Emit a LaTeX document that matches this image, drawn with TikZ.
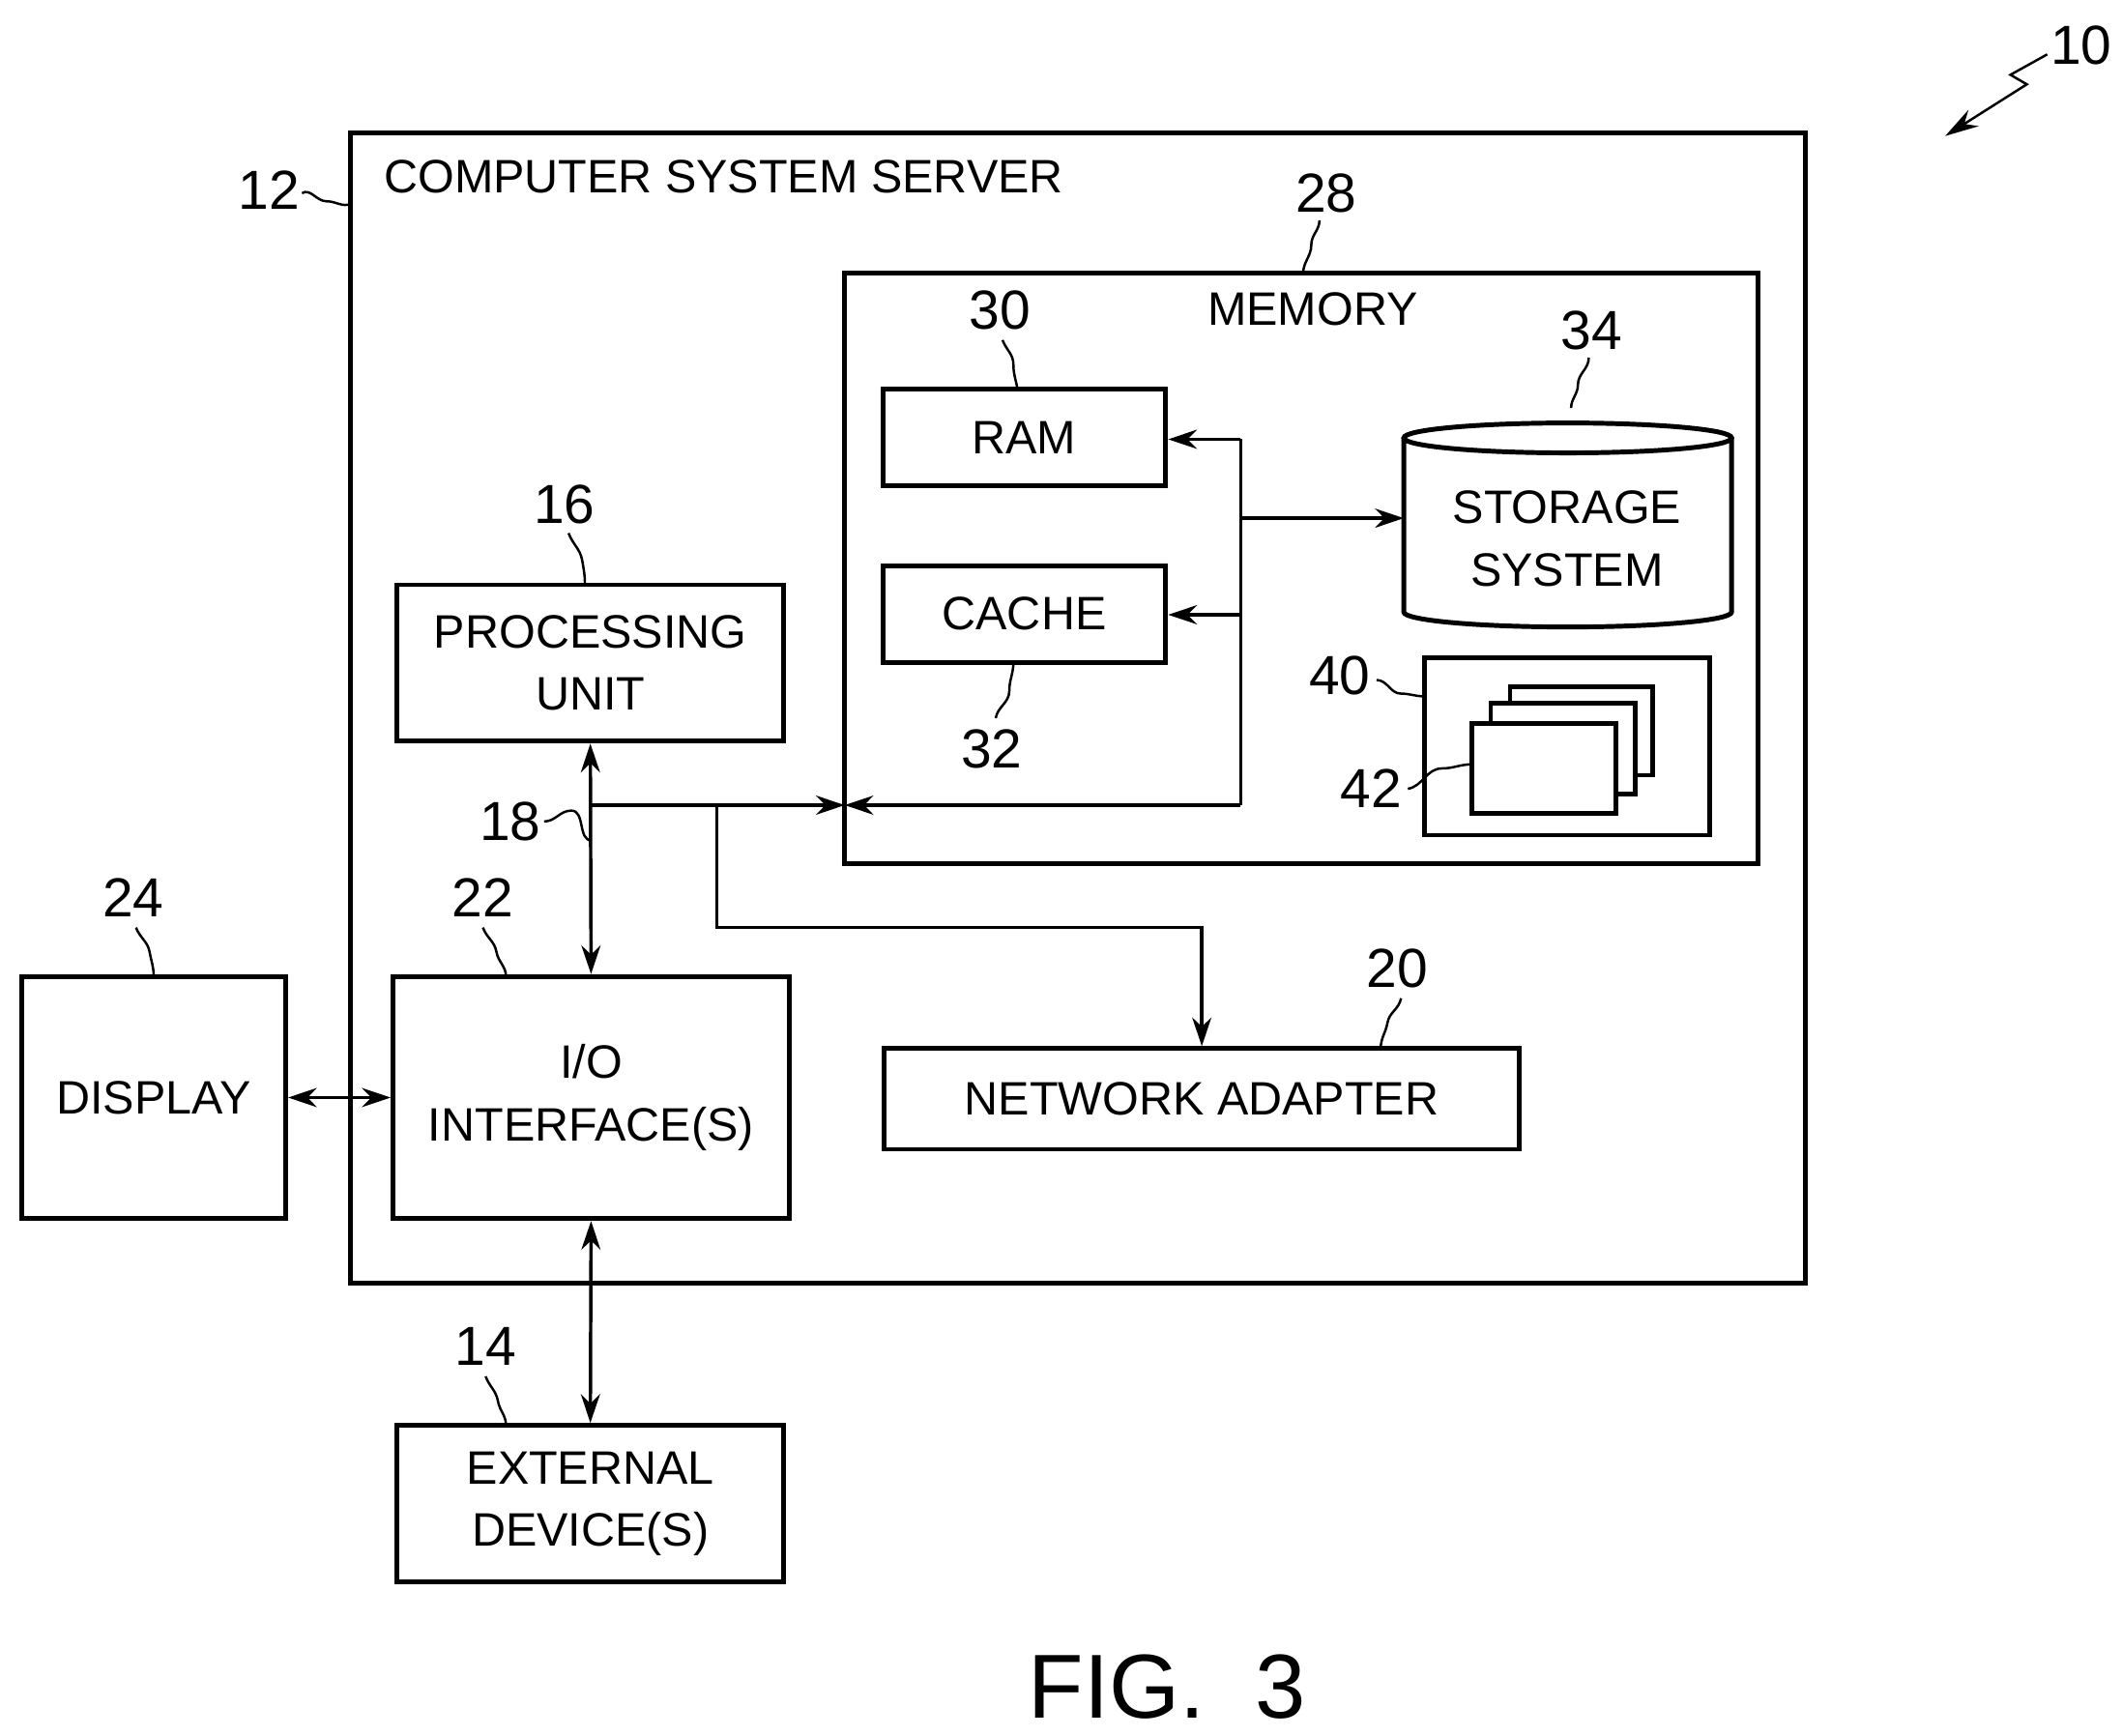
\documentclass[tikz,border=0pt]{standalone}
\usepackage{fontspec}
\setmainfont{Liberation Sans}
\usetikzlibrary{positioning,arrows.meta}
\tikzset{
  box/.style={draw,line width=1pt,minimum width=#1,inner sep=2pt,align=center,font=\fontsize{9.8}{13}\selectfont},
  arr/.style={-{Stealth[length=6pt,width=4pt]},line width=0.7pt},
  darr/.style={{Stealth[length=6pt,width=4pt]}-{Stealth[length=6pt,width=4pt]},line width=0.7pt},
  num/.style={font=\fontsize{11.5}{14}\selectfont},
  lead/.style={line width=0.5pt}
}
\begin{document}
\begin{tikzpicture}[x=0.01cm,y=-0.01cm]
\useasboundingbox (0,0) rectangle (1560,1276);
% boxes
\node[box=10.69cm,minimum height=8.45cm] (srv) at (792.5,520.5) {};
\node[anchor=west,font=\fontsize{9.8}{12}\selectfont] (srvt) at (270,130) {COMPUTER SYSTEM SERVER};
\node[box=6.71cm,minimum height=4.34cm] (mem) at (956.5,418) {};
\node[font=\fontsize{9.8}{12}\selectfont] (memt) at (965,227) {MEMORY};
\node[box=2.08cm,minimum height=0.71cm] (ram) at (753,321.5) {RAM};
\node[box=2.08cm,minimum height=0.71cm] (cache) at (753,451.5) {CACHE};
\node[box=2.84cm,minimum height=1.15cm] (pu) at (434,487.5) {PROCESSING\\UNIT};
\node[box=2.91cm,minimum height=1.78cm] (io) at (434.5,807) {I/O\\INTERFACE(S)};
\node[box=1.94cm,minimum height=1.78cm] (disp) at (113,807) {DISPLAY};
\node[box=2.84cm,minimum height=1.15cm] (ext) at (434,1105.5) {EXTERNAL\\DEVICE(S)};
\node[box=4.67cm,minimum height=0.74cm] (na) at (883.5,808) {NETWORK ADAPTER};
\node[box=2.10cm,minimum height=1.30cm] (pm) at (1152,549) {};
% storage
\draw[line width=1pt,fill=white] (1032,322) -- (1032,450) arc[start angle=180,end angle=360,x radius=120.5,y radius=-11] -- (1273,322);
\draw[line width=1pt] (1152.5,322) ellipse[x radius=120.5,y radius=11];
\node[font=\fontsize{9.8}{13}\selectfont,align=center] (stor) at (1152,396) {STORAGE\\SYSTEM};
% program modules
\draw[line width=0.9pt,fill=white] (1110,505) rectangle (1215,570);
\draw[line width=0.9pt,fill=white] (1096,517) rectangle (1202,584);
\draw[line width=0.9pt,fill=white] (1082,532) rectangle (1188,598);
% bus
\coordinate (busT) at (912,323);
\coordinate (busS) at (912,381);
\coordinate (busC) at (912,452);
\coordinate (busB) at (912,592);
\coordinate (bus18) at (435,592);
\coordinate (busN) at (527,592);
\coordinate (busN2) at (527,682);
\coordinate (memIn) at (621,592);
\draw[line width=0.7pt] (busT) -- (busB);
\draw[arr] (busT) -- (busT -| ram.east);
\draw[arr] (busC) -- (busC -| cache.east);
\draw[arr] (busS) -- (1032,381);
\draw[arr] (busB) -- (memIn);
\draw[arr] (bus18) -- (memIn);
\draw[darr] (pu.south) -- (io.north);
\draw[arr] (busN) -- (busN2) -| (na.north);
\draw[darr] (disp.east) -- (io.west);
\draw[darr] (io.south) -- (ext.north);
% reference numerals
\node[num] (n12) at (198,140) {12};
\draw[lead] (222,142) to[out=30,in=180] (240,148) to[out=0,in=200] (258,150);
\node[num] (n28) at (975,142) {28};
\draw[lead] (970,162) to[out=-90,in=90] (964,180) to[out=-90,in=90] (958,201);
\node[num] (n30) at (735,228) {30};
\draw[lead] (737,250) to[out=-70,in=90] (745,268) to[out=-90,in=100] (748,286);
\node[num] (n34) at (1170,243) {34};
\draw[lead] (1168,263) to[out=-90,in=90] (1160,283) to[out=-90,in=90] (1155,300);
\node[num] (n16) at (415,371) {16};
\draw[lead] (418,392) to[out=-70,in=100] (428,412) to[out=-80,in=90] (430,430);
\node[num] (n32) at (729,551) {32};
\draw[lead] (732,528) to[out=80,in=-90] (742,508) to[out=90,in=-90] (745,487);
\node[num] (n40) at (985,497) {40};
\draw[lead] (1012,500) to[out=0,in=180] (1030,510) to[out=0,in=180] (1047,512);
\node[num] (n42) at (1008,580) {42};
\draw[lead] (1035,580) to[out=10,in=180] (1060,565) to[out=0,in=180] (1082,562);
\node[num] (n18) at (375,604) {18};
\draw[lead] (400,604) to[out=0,in=180] (420,596) to[out=0,in=180] (435,618);
\node[num] (n24) at (98,660) {24};
\draw[lead] (100,682) to[out=-70,in=100] (110,700) to[out=-80,in=90] (113,718);
\node[num] (n22) at (355,660) {22};
\draw[lead] (355,682) to[out=-70,in=100] (365,700) to[out=-80,in=90] (372,718);
\node[num] (n20) at (1027,712) {20};
\draw[lead] (1030,734) to[out=-100,in=80] (1020,752) to[out=-100,in=90] (1015,771);
\node[num] (n14) at (357,990) {14};
\draw[lead] (357,1012) to[out=-70,in=100] (366,1030) to[out=-80,in=90] (372,1048);
\node[num] (n10) at (1530,33) {10};
\draw[lead,-{Stealth[length=7pt,width=4pt]}] (1505,40) -- (1478,55) -- (1490,62) -- (1430,100);
% caption
\node[font=\fontsize{19}{22}\selectfont] (fig) at (858,1240) {FIG.\ \ 3};
\end{tikzpicture}
\end{document}
